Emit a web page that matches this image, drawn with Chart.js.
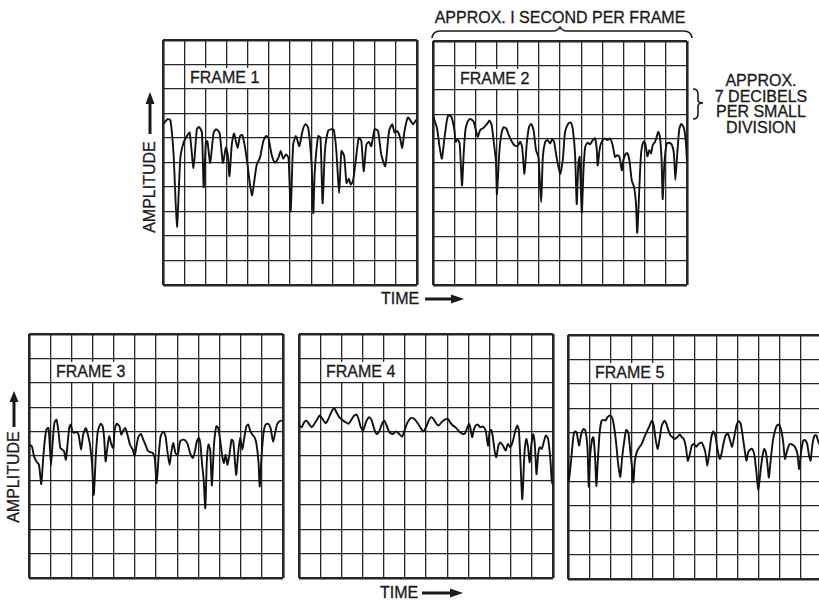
<!DOCTYPE html>
<html>
<head>
<meta charset="utf-8">
<script src="https://cdn.jsdelivr.net/npm/chart.js@4.4.1/dist/chart.umd.min.js"></script>
<style>
  body { margin:0; background:#fff; width:819px; height:600px; overflow:hidden; position:relative;
         font-family:"Liberation Sans", Arial, sans-serif; color:#1a1a1a; }
  canvas { position:absolute; }
  .lbl { position:absolute; font-size:16px; line-height:16px; white-space:nowrap; -webkit-text-stroke:0.3px #1a1a1a; }
  .frameLbl { background:#fff; padding:2px 3px; }
  .vert { width:110px; text-align:center; transform:rotate(-90deg); }
  svg { position:absolute; left:0; top:0; }
</style>
</head>
<body>

<div class="lbl" style="left:420px; top:10px; width:280px; text-align:center;">APPROX. I SECOND PER FRAME</div>
<div class="lbl" style="left:700px; top:73px; width:122px; text-align:center; line-height:15.5px;">APPROX.<br>7 DECIBELS<br>PER SMALL<br>DIVISION</div>
<div class="lbl" style="left:381px; top:291px;">TIME</div>
<div class="lbl" style="left:380px; top:585px;">TIME</div>
<div class="lbl vert" style="left:95px; top:179px;">AMPLITUDE</div>
<div class="lbl vert" style="left:-41px; top:469px;">AMPLITUDE</div>

<svg width="819" height="600">
  <g fill="none" stroke="#1a1a1a" stroke-width="1.6">
    <!-- brace over frame 2 -->
    <path d="M432,38 Q433,31 440,31 L553,31 Q558,31 560,27 Q562,31 567,31 L684,31 Q691,31 692,38"/>
    <!-- brace for one small division -->
    <path d="M693,89 Q698,89 698,94 L698,100 Q698,103 703,103 Q698,103 698,106 L698,114 Q698,119 693,119"/>
  </g>
  <g stroke="#1a1a1a" stroke-width="3">
    <line x1="425" y1="299" x2="454" y2="299"/>
    <line x1="422" y1="593" x2="453" y2="593"/>
    <line x1="150" y1="134" x2="150" y2="102"/>
    <line x1="14" y1="427" x2="14" y2="400"/>
  </g>
  <g fill="#1a1a1a">
    <polygon points="451,294.5 464,299 451,303.5"/>
    <polygon points="450,588.5 463,593 450,597.5"/>
    <polygon points="145.5,104 154.5,104 150,92"/>
    <polygon points="9.5,402 18.5,402 14,391"/>
  </g>
</svg>

<script>
// grid: 12 time divisions, 10 amplitude divisions per frame
const xDivisions = 12;
const yDivisions = 10;

// FRAME 1
const frame1Time = [
  0.00,0.22,0.35,0.50,0.66,0.82,0.97,1.13,1.26,1.44,
  1.60,1.71,1.84,1.92,2.03,2.10,2.23,2.39,2.51,2.67,
  2.83,2.97,3.06,3.14,3.25,3.36,3.52,3.64,3.75,3.88,
  3.99,4.11,4.21,4.30,4.43,4.58,4.74,4.87,4.98,5.13,
  5.29,5.45,5.56,5.68,5.81,5.93,6.03,6.15,6.28,6.44,
  6.59,6.73,6.86,7.02,7.10,7.17,7.33,7.44,7.54,7.65,
  7.80,7.96,8.07,8.19,8.32,8.43,8.56,8.67,8.78,8.87,
  8.98,9.14,9.25,9.37,9.48,9.61,9.73,9.84,10.00,10.16,
  10.31,10.50,10.68,10.83,10.94,11.05,11.18,11.30,11.41,11.57,
  11.68,11.81,11.93,12.00
];
const frame1Amp = [
  6.56,6.77,6.73,5.33,2.38,5.19,5.81,6.08,6.22,4.78,
  6.36,6.45,6.22,3.99,5.88,5.85,4.99,6.22,6.36,6.22,
  4.99,5.60,5.33,4.44,5.74,6.18,5.60,6.08,6.12,5.60,
  4.92,4.10,3.66,4.16,4.92,5.19,5.88,6.08,6.01,5.33,
  4.99,5.19,5.47,5.16,5.33,5.19,3.00,5.74,6.08,5.67,
  6.29,6.56,6.42,4.92,2.93,4.64,6.08,6.01,3.34,5.47,
  6.29,6.36,6.32,5.47,3.75,5.47,5.26,4.16,4.34,4.10,
  4.26,5.33,6.01,5.88,4.64,5.74,5.84,5.67,6.36,6.29,
  5.33,4.85,6.29,6.56,6.22,6.29,6.08,5.60,6.29,6.84,
  6.73,6.56,6.70,6.77
];

// FRAME 2
const frame2Time = [
  0.00,0.19,0.31,0.42,0.53,0.66,0.75,0.88,1.01,1.07,
  1.16,1.26,1.37,1.45,1.53,1.64,1.76,1.92,2.11,2.23,
  2.36,2.47,2.58,2.67,2.77,2.86,2.97,3.02,3.13,3.22,
  3.33,3.46,3.58,3.73,3.84,3.99,4.12,4.21,4.32,4.43,
  4.54,4.64,4.75,4.87,4.98,5.11,5.19,5.30,5.41,5.53,
  5.63,5.72,5.85,6.01,6.13,6.24,6.40,6.51,6.60,6.71,
  6.79,6.87,6.93,7.03,7.11,7.19,7.30,7.42,7.55,7.66,
  7.74,7.78,7.89,8.02,8.13,8.24,8.36,8.49,8.60,8.71,
  8.81,8.92,8.99,9.09,9.18,9.28,9.39,9.50,9.59,9.65,
  9.75,9.83,9.94,10.03,10.13,10.22,10.30,10.38,10.49,10.57,
  10.64,10.72,10.80,10.85,10.93,11.04,11.16,11.29,11.38,11.45,
  11.54,11.64,11.73,11.86,11.95,12.00
];
const frame2Amp = [
  6.93,6.42,5.66,5.18,5.94,6.77,6.97,6.88,6.35,5.87,
  5.97,5.80,4.08,5.39,6.35,6.70,6.81,6.70,6.08,6.35,
  6.42,6.52,6.63,6.74,6.56,5.94,5.11,3.73,5.39,6.14,
  6.46,6.42,6.14,5.87,5.73,5.69,5.87,5.66,4.56,5.80,
  6.49,6.60,6.35,5.52,5.25,3.39,5.25,5.87,5.94,5.80,
  5.97,5.87,5.18,4.56,5.11,6.28,6.63,6.66,6.42,5.39,
  3.32,5.04,5.25,2.97,4.70,5.66,5.83,5.77,5.94,6.01,
  5.52,4.90,5.66,5.94,6.01,5.94,6.01,5.73,5.25,5.32,
  5.25,4.70,5.11,5.36,5.41,5.11,4.28,4.01,3.32,2.14,
  4.01,5.39,5.87,5.80,5.28,5.52,5.39,5.73,5.87,6.08,
  6.28,6.08,5.11,3.52,4.97,5.80,5.83,5.73,5.39,4.31,
  5.39,6.42,6.60,6.42,5.80,5.04
];

// FRAME 3
const frame3Time = [
  0.00,0.13,0.24,0.35,0.47,0.58,0.66,0.74,0.82,0.92,
  0.98,1.04,1.11,1.20,1.30,1.39,1.48,1.58,1.66,1.74,
  1.82,1.90,1.97,2.05,2.15,2.24,2.34,2.46,2.56,2.69,
  2.78,2.88,2.97,3.06,3.16,3.25,3.38,3.48,3.55,3.62,
  3.70,3.79,3.89,3.98,4.04,4.14,4.27,4.36,4.45,4.55,
  4.66,4.77,4.90,4.99,5.09,5.18,5.29,5.40,5.50,5.61,
  5.72,5.85,5.94,6.03,6.13,6.22,6.35,6.45,6.54,6.64,
  6.73,6.82,6.92,7.03,7.14,7.27,7.39,7.50,7.61,7.74,
  7.84,7.93,8.03,8.10,8.18,8.25,8.33,8.40,8.48,8.56,
  8.64,8.74,8.85,8.94,9.04,9.13,9.21,9.29,9.38,9.48,
  9.57,9.65,9.73,9.79,9.89,9.98,10.08,10.17,10.27,10.36,
  10.46,10.55,10.65,10.74,10.84,10.90,10.99,11.09,11.18,11.30,
  11.41,11.53,11.63,11.72,11.82,11.93,12.00
];
const frame3Amp = [
  5.47,5.40,4.99,4.78,4.64,3.85,4.78,5.60,6.08,6.15,
  5.47,4.62,5.47,6.36,6.49,6.01,5.33,5.26,5.19,4.85,
  5.47,6.15,6.29,6.01,5.95,5.99,5.88,5.26,5.88,6.15,
  5.88,5.47,4.78,3.41,5.05,6.01,6.32,6.22,5.74,4.78,
  5.33,5.81,5.47,5.33,6.01,6.32,6.22,5.88,6.04,6.15,
  5.85,5.47,5.26,5.01,5.47,5.81,5.90,5.67,5.47,5.22,
  5.16,5.12,4.92,3.89,5.05,5.81,6.01,5.81,5.19,4.64,
  5.19,5.53,5.12,5.05,5.60,5.67,5.63,5.47,5.12,4.92,
  5.19,5.60,5.74,5.47,4.64,4.03,2.86,4.78,5.47,5.26,
  3.79,5.47,6.22,6.15,5.60,4.99,4.71,5.05,4.64,5.12,
  5.67,5.60,4.78,4.23,5.19,5.74,5.26,5.74,6.22,6.29,
  6.01,5.88,5.77,5.53,4.78,3.75,5.05,6.01,6.29,6.32,
  6.15,5.60,5.95,6.29,6.42,6.45,6.45
];

// FRAME 4
const frame4Time = [
  0.00,0.13,0.24,0.35,0.47,0.60,0.71,0.82,0.98,1.11,
  1.26,1.39,1.52,1.66,1.77,1.90,2.05,2.21,2.34,2.45,
  2.61,2.72,2.81,2.92,3.03,3.16,3.32,3.44,3.55,3.67,
  3.79,3.92,4.03,4.14,4.27,4.42,4.58,4.74,4.87,4.98,
  5.13,5.29,5.45,5.61,5.77,5.88,6.00,6.13,6.24,6.35,
  6.48,6.60,6.73,6.87,7.03,7.14,7.27,7.39,7.50,7.61,
  7.74,7.84,7.93,8.03,8.09,8.18,8.25,8.34,8.45,8.56,
  8.69,8.82,8.93,9.00,9.08,9.16,9.24,9.32,9.42,9.51,
  9.64,9.76,9.87,9.98,10.11,10.22,10.32,10.39,10.46,10.55,
  10.65,10.74,10.82,10.90,10.98,11.06,11.14,11.22,11.30,11.37,
  11.47,11.56,11.66,11.77,11.88,11.94,12.00
];
const frame4Amp = [
  6.25,6.18,6.38,6.45,6.32,6.18,6.29,6.45,6.66,6.52,
  6.34,6.52,6.79,6.97,6.79,6.59,6.48,6.38,6.32,6.45,
  6.66,6.70,6.52,6.18,6.04,6.38,6.59,6.45,6.11,5.90,
  6.01,6.32,6.45,6.25,5.97,5.90,6.01,5.90,5.79,6.04,
  6.38,6.56,6.52,6.34,6.11,6.01,6.18,6.45,6.59,6.52,
  6.34,6.25,6.38,6.48,6.52,6.38,6.25,6.18,6.07,5.97,
  5.90,5.93,6.11,6.32,6.18,5.77,6.04,6.25,6.29,6.18,
  6.21,6.04,5.42,5.97,6.07,5.77,5.22,4.95,5.42,5.56,
  5.42,5.22,5.49,5.36,5.63,6.04,6.25,6.04,4.81,3.23,
  5.08,5.70,5.36,4.74,5.49,5.90,5.49,4.26,5.08,5.36,
  5.29,5.56,5.84,5.70,4.81,3.99,3.80
];

// FRAME 5
const frame5Time = [
  0.00,0.04,0.16,0.25,0.32,0.41,0.52,0.63,0.73,0.82,
  0.92,0.98,1.04,1.14,1.20,1.28,1.34,1.41,1.49,1.58,
  1.68,1.77,1.87,1.99,2.09,2.18,2.28,2.37,2.47,2.56,
  2.66,2.75,2.85,2.94,3.04,3.09,3.16,3.26,3.37,3.48,
  3.61,3.73,3.86,3.96,4.05,4.15,4.24,4.34,4.43,4.56,
  4.65,4.75,4.84,4.94,5.03,5.16,5.28,5.38,5.47,5.57,
  5.66,5.76,5.85,5.95,6.06,6.17,6.30,6.39,6.49,6.58,
  6.68,6.77,6.87,6.96,7.06,7.17,7.25,7.34,7.44,7.56,
  7.66,7.75,7.85,7.96,8.07,8.16,8.26,8.35,8.43,8.51,
  8.59,8.70,8.80,8.91,8.99,9.08,9.18,9.27,9.35,9.43,
  9.49,9.59,9.68,9.78,9.87,9.97,10.06,10.16,10.25,10.35,
  10.47,10.60,10.73,10.84,10.92,11.01,11.11,11.20,11.30,11.39,
  11.46,11.55,11.65,11.74,11.87,12.00
];
const frame5Amp = [
  4.92,4.00,4.99,5.81,6.05,6.01,5.47,5.95,6.15,6.08,
  5.40,3.78,4.99,5.74,5.81,4.99,3.82,4.85,5.95,6.47,
  6.52,6.49,6.63,6.70,6.60,6.22,5.53,4.71,4.19,4.99,
  5.67,6.11,6.01,5.26,4.44,3.96,4.85,5.23,5.40,5.53,
  5.81,6.05,6.29,6.49,6.29,5.67,5.33,5.81,6.29,6.49,
  6.36,6.08,5.88,5.81,5.74,5.81,5.92,5.81,5.74,5.40,
  4.85,5.12,5.47,5.53,5.42,5.53,5.60,5.47,5.19,4.64,
  5.19,5.81,6.05,5.88,5.33,4.92,5.12,5.53,5.88,5.95,
  5.67,5.42,5.81,6.29,6.47,6.36,5.81,5.26,4.85,5.19,
  5.29,5.33,5.12,4.30,3.62,4.30,4.99,5.33,5.19,4.64,
  4.16,4.99,5.67,6.08,6.29,6.33,6.15,5.67,4.92,5.26,
  5.53,5.51,5.40,5.12,4.51,5.19,5.67,5.70,5.53,5.05,
  4.85,5.53,5.88,5.88,5.53,5.88
];

const frames = [
  { name: 'FRAME 1', time: frame1Time, amp: frame1Amp, left: 163, top: 40, w: 254, h: 245 },
  { name: 'FRAME 2', time: frame2Time, amp: frame2Amp, left: 433, top: 41, w: 254, h: 244 },
  { name: 'FRAME 3', time: frame3Time, amp: frame3Amp, left: 29,  top: 334, w: 254, h: 244 },
  { name: 'FRAME 4', time: frame4Time, amp: frame4Amp, left: 299, top: 334, w: 254, h: 244 },
  { name: 'FRAME 5', time: frame5Time, amp: frame5Amp, left: 568, top: 335, w: 254, h: 244 }
];

const pad = 3;

// edge lines of the graticule are heavier than the inner ones
function gridWidth(max) {
  return ctx => (ctx.tick && (ctx.tick.value === 0 || ctx.tick.value === max)) ? 2.6 : 1.3;
}

frames.forEach(f => {
  const canvas = document.createElement('canvas');
  canvas.width = f.w + pad * 2;
  canvas.height = f.h + pad * 2;
  canvas.style.left = (f.left - pad) + 'px';
  canvas.style.top = (f.top - pad) + 'px';
  document.body.appendChild(canvas);

  new Chart(canvas.getContext('2d'), {
    type: 'line',
    data: {
      datasets: [{
        data: f.time.map((t, i) => ({ x: t, y: f.amp[i] })),
        borderColor: '#111',
        borderWidth: 1.9,
        pointRadius: 0,
        tension: 0.2,
        fill: false
      }]
    },
    options: {
      responsive: false,
      animation: false,
      events: [],
      layout: { padding: pad },
      plugins: { legend: { display: false }, tooltip: { enabled: false } },
      scales: {
        x: {
          type: 'linear', min: 0, max: xDivisions,
          ticks: { display: false, stepSize: 1 },
          grid: { color: '#262626', lineWidth: gridWidth(xDivisions), drawTicks: false },
          border: { display: false }
        },
        y: {
          type: 'linear', min: 0, max: yDivisions,
          ticks: { display: false, stepSize: 1 },
          grid: { color: '#262626', lineWidth: gridWidth(yDivisions), drawTicks: false },
          border: { display: false }
        }
      }
    }
  });

  // frame caption sits on a white patch over the grid
  const lbl = document.createElement('div');
  lbl.className = 'lbl frameLbl';
  lbl.textContent = f.name;
  lbl.style.left = (f.left + 24) + 'px';
  lbl.style.top = (f.top + 28) + 'px';
  document.body.appendChild(lbl);
});
</script>
</body>
</html>
